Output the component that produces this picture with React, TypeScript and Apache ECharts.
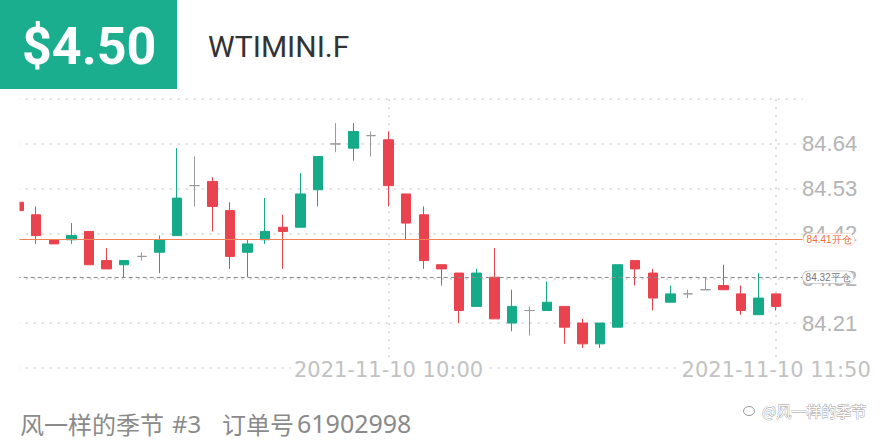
import React, { useEffect, useRef } from "react";
import * as echarts from "echarts";

const times = [
  "2021-11-10 08:15", "2021-11-10 08:20", "2021-11-10 08:25", "2021-11-10 08:30", "2021-11-10 08:35",
  "2021-11-10 08:40", "2021-11-10 08:45", "2021-11-10 08:50", "2021-11-10 08:55", "2021-11-10 09:00",
  "2021-11-10 09:05", "2021-11-10 09:10", "2021-11-10 09:15", "2021-11-10 09:20", "2021-11-10 09:25",
  "2021-11-10 09:30", "2021-11-10 09:35", "2021-11-10 09:40", "2021-11-10 09:45", "2021-11-10 09:50",
  "2021-11-10 09:55", "2021-11-10 10:00", "2021-11-10 10:05", "2021-11-10 10:10", "2021-11-10 10:15",
  "2021-11-10 10:20", "2021-11-10 10:25", "2021-11-10 10:30", "2021-11-10 10:35", "2021-11-10 10:40",
  "2021-11-10 10:45", "2021-11-10 10:50", "2021-11-10 10:55", "2021-11-10 11:00", "2021-11-10 11:05",
  "2021-11-10 11:10", "2021-11-10 11:15", "2021-11-10 11:20", "2021-11-10 11:25", "2021-11-10 11:30",
  "2021-11-10 11:35", "2021-11-10 11:40", "2021-11-10 11:45", "2021-11-10 11:50",
];

const opens = [
  84.50, 84.47, 84.41, 84.41, 84.43, 84.36, 84.35, 84.37, 84.38, 84.42,
  84.54, 84.55, 84.48, 84.38, 84.41, 84.44, 84.44, 84.53, 84.64, 84.63,
  84.66, 84.65, 84.52, 84.47, 84.35, 84.33, 84.25, 84.32, 84.21, 84.24,
  84.24, 84.25, 84.21, 84.16, 84.20, 84.36, 84.33, 84.26, 84.28, 84.29,
  84.30, 84.28, 84.23, 84.28,
];
const closes = [
  84.48, 84.42, 84.40, 84.42, 84.35, 84.34, 84.36, 84.37, 84.41, 84.51,
  84.54, 84.49, 84.37, 84.40, 84.43, 84.43, 84.52, 84.61, 84.64, 84.67,
  84.66, 84.54, 84.45, 84.36, 84.34, 84.24, 84.33, 84.22, 84.25, 84.24,
  84.26, 84.20, 84.16, 84.21, 84.35, 84.34, 84.27, 84.28, 84.28, 84.29,
  84.29, 84.24, 84.27, 84.25,
];
const lows = [
  84.48, 84.40, 84.40, 84.40, 84.35, 84.34, 84.32, 84.36, 84.33, 84.42,
  84.49, 84.43, 84.34, 84.32, 84.40, 84.34, 84.44, 84.49, 84.62, 84.60,
  84.61, 84.49, 84.41, 84.34, 84.30, 84.21, 84.25, 84.22, 84.19, 84.18,
  84.24, 84.16, 84.15, 84.15, 84.20, 84.30, 84.24, 84.26, 84.27, 84.29,
  84.29, 84.23, 84.23, 84.24,
];
const highs = [
  84.50, 84.49, 84.41, 84.45, 84.43, 84.39, 84.36, 84.38, 84.42, 84.63,
  84.61, 84.56, 84.50, 84.41, 84.51, 84.47, 84.57, 84.61, 84.69, 84.69,
  84.67, 84.67, 84.52, 84.49, 84.35, 84.33, 84.34, 84.39, 84.29, 84.25,
  84.31, 84.25, 84.22, 84.21, 84.35, 84.36, 84.34, 84.30, 84.29, 84.32,
  84.35, 84.30, 84.33, 84.28,
];

const openPrice = 84.41;
const closePrice = 84.32;
const labeledIdx = [21, 43];

const GREEN = "#15aa88";
const RED = "#e8434f";
const TEAL = "#1aae8f";

export default function App() {
  const ref = useRef<HTMLDivElement>(null);
  useEffect(() => {
    if (!ref.current) return;
    const chart = echarts.init(ref.current, undefined, { renderer: "svg" });
    const data = opens.map((o, i) => [o, closes[i], lows[i], highs[i]]);
    const dotted = { color: "#dcdcdc", type: [2, 6] as any, width: 2 };
    const option: any = {
      animation: false,
      grid: { left: 9.7, right: 77.4, top: 99.2, bottom: 72.2, containLabel: false },
      xAxis: {
        type: "category",
        data: times,
        max: 44,
        boundaryGap: true,
        z: 1,
        axisLine: { show: false },
        axisTick: { show: false },
        axisLabel: {
          interval: (i: number) => labeledIdx.includes(i),
          color: "#c2c2c2",
          fontFamily: "DejaVu Sans",
          fontSize: 21,
          margin: -8,
          backgroundColor: "#ffffff",
          padding: [0, 3],
        },
        splitLine: {
          show: true,
          alignWithLabel: true,
          interval: (i: number) => labeledIdx.includes(i),
          lineStyle: dotted,
        },
      },
      yAxis: {
        type: "value",
        position: "right",
        min: 84.1025,
        max: 84.7475,
        interval: 0.1075,
        axisLine: { show: false },
        axisTick: { show: false },
        axisLabel: {
          showMinLabel: false,
          showMaxLabel: false,
          formatter: (v: number) => v.toFixed(2),
          color: "#b4b4b4",
          fontSize: 22,
          fontFamily: "Liberation Sans",
          margin: -0.5,
        },
        splitLine: { show: true, lineStyle: dotted },
      },
      series: [
        {
          type: "candlestick",
          data,
          barWidth: 10,
          itemStyle: {
            color: GREEN,
            color0: RED,
            borderColor: GREEN,
            borderColor0: RED,
            borderColorDoji: "#999999",
            borderWidth: 1,
          },
          markLine: {
            silent: true,
            symbol: "none",
            data: [
              {
                yAxis: openPrice,
                lineStyle: { color: "#f28058", type: "solid", width: 1 },
                label: {
                  position: "end",
                  distance: 1,
                  formatter: openPrice.toFixed(2) + "开仓",
                  color: "#f06a3c",
                  fontSize: 10,
                  backgroundColor: "#ffffff",
                  borderColor: "#f8c8b8",
                  borderWidth: 0.5,
                  borderRadius: 7,
                  padding: [1, 3],
                },
              },
              {
                yAxis: closePrice,
                lineStyle: { color: "#8a8a8a", type: [4, 3], width: 1 },
                label: {
                  position: "end",
                  distance: 0,
                  formatter: closePrice.toFixed(2) + "平仓",
                  color: "#777777",
                  fontSize: 10,
                  backgroundColor: "#ffffff",
                  borderColor: "#aaaaaa",
                  borderWidth: 0.5,
                  borderRadius: 7,
                  padding: [1, 3],
                },
              },
            ],
          },
        },
      ],
      graphic: [
        { type: "rect", z: 100, shape: { x: 0, y: 92, width: 19.5, height: 300 }, style: { fill: "#ffffff" } },
        { type: "rect", z: 100, shape: { x: 0, y: 0, width: 177, height: 89 }, style: { fill: TEAL } },
        {
          type: "text", z: 101, x: 22, y: 46,
          style: { text: "$4.50", fill: "#ffffff", fontSize: 52, fontWeight: "bold", fontFamily: "Roboto", verticalAlign: "middle", align: "left" },
        },
        {
          type: "text", z: 101, x: 208, y: 46,
          style: { text: "WTIMINI.F", fill: "#333333", fontSize: 30, fontFamily: "Roboto", verticalAlign: "middle", align: "left" },
        },
        {
          type: "text", z: 101, x: 20, y: 423,
          style: { text: "风一样的季节", fill: "#8a8a8a", fontSize: 24, fontFamily: "Noto Sans CJK SC", verticalAlign: "middle", align: "left" },
        },
        {
          type: "text", z: 101, x: 172, y: 423,
          style: { text: "#3", fill: "#8a8a8a", fontSize: 24, fontFamily: "Noto Sans", verticalAlign: "middle", align: "left" },
        },
        {
          type: "text", z: 101, x: 222, y: 423,
          style: { text: "订单号", fill: "#8a8a8a", fontSize: 24, fontFamily: "Noto Sans CJK SC", verticalAlign: "middle", align: "left" },
        },
        {
          type: "text", z: 101, x: 297, y: 423,
          style: { text: "61902998", fill: "#8a8a8a", fontSize: 25, fontFamily: "Noto Sans", verticalAlign: "middle", align: "left" },
        },
        {
          type: "ellipse", z: 101, shape: { cx: 749, cy: 411, rx: 5.5, ry: 4.5 },
          style: { fill: "none", stroke: "#999999", lineWidth: 1 },
        },
        {
          type: "text", z: 101, x: 762, y: 410,
          style: { text: "@风一样的季节", fill: "#ffffff", stroke: "#999999", lineWidth: 0.8, fontSize: 15, fontFamily: "Noto Sans CJK SC", verticalAlign: "middle", align: "left" },
        },
      ],
    };
    chart.setOption(option);
    return () => chart.dispose();
  }, []);
  return (
    <div
      ref={ref}
      style={{ position: "absolute", left: 0, top: 0, width: 880, height: 440, background: "#ffffff" }}
    />
  );
}
